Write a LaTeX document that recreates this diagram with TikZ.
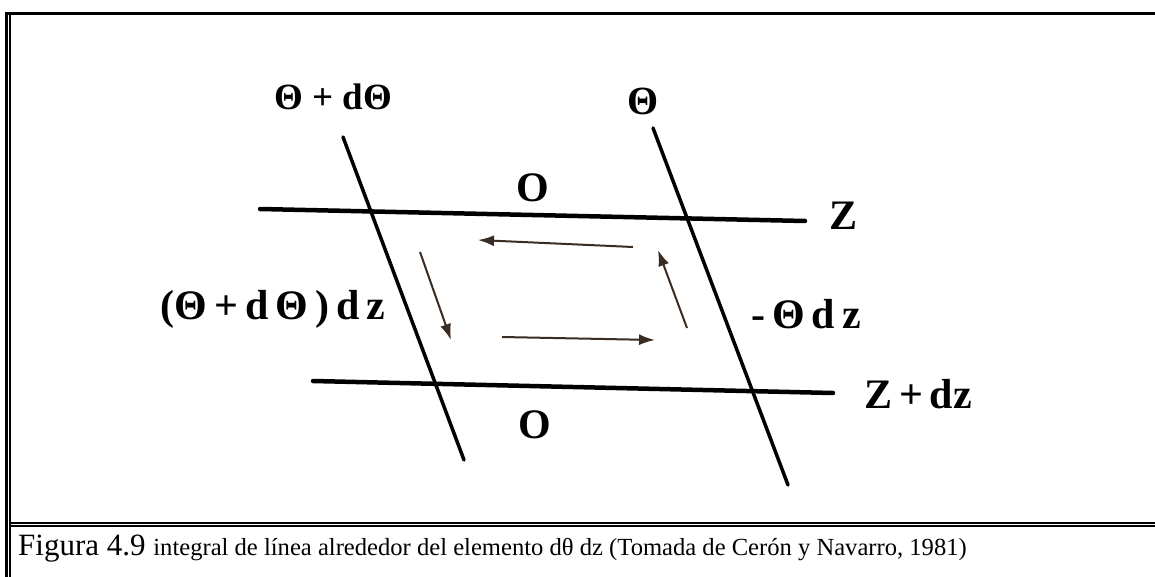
\documentclass[tikz,border=0pt]{standalone}
\usepackage{fontspec}
\setmainfont{Liberation Serif}
\usepackage{xcolor}
\usepackage{tikz}
\usetikzlibrary{arrows.meta,positioning,calc}
\tikzset{>=stealth}
\definecolor{arrowbrown}{RGB}{58,44,34}
\tikzset{
  gridline/.style={line width=4.5pt, line cap=round},
  slantline/.style={line width=3.5pt, line cap=round},
  flowarrow/.style={arrowbrown, line width=2pt, -{Latex[length=16pt,width=11pt]}},
  lbl/.style={font=\fontsize{42}{48}\selectfont\bfseries, inner sep=0pt}
}

\begin{document}
\begin{tikzpicture}[x=1pt, y=-1pt]
			\useasboundingbox (0,0) rectangle (1155,577);
			\fill[white] (0,0) rectangle (1155,577);
			% frame
			\draw[line width=3.5pt] (5,13.5) -- (1155,13.5);
			\draw[line width=3pt] (6.5,12) -- (6.5,577);
			\draw[line width=1.3pt] (10,15) -- (10,577);
			\draw[line width=2pt] (10,522.5) -- (1155,522.5);
			\draw[line width=1.8pt] (10,526.2) -- (1155,526.2);
			% grid lines
			\draw[gridline] (260,209) -- (805,221);
			\draw[gridline] (313,381) -- (833,393);
			\draw[slantline] (343,137) -- (464,460);
			\draw[slantline] (653,128) -- (788,485);
			% circulation arrows
			\draw[flowarrow] (420,252) -- (451,340);
			\draw[flowarrow] (502,337) -- (655,340);
			\draw[flowarrow] (687,328) -- (658,250);
			\draw[flowarrow] (633,247) -- (478,240);
			% labels
			\node[lbl, font=\fontsize{37}{42}\selectfont\bfseries] (thetaplus) at (333,97) {Θ + dΘ};
			\node[lbl, font=\fontsize{40}{46}\selectfont\bfseries] (theta) at (643,101) {Θ};
			\node[lbl] (otop) at (533,188) {O};
			\node[lbl] (zlab) at (843,216) {Z};
			\node[lbl] (leftint) at (273,309) {(Θ\,+\,d\,Θ\,)\,d\,z};
			\node[lbl] (rightint) at (806,314) {-\,Θ\,d\,z};
			\node[lbl] (zdz) at (918,394) {Z\,+\,dz};
			\node[lbl] (obot) at (535,425) {O};
			\node[anchor=base west, inner sep=0pt] (caption) at (18,555) {{\fontsize{31}{36}\selectfont Figura 4.9 }{\fontsize{24.6}{29}\selectfont integral de línea alrededor del elemento dθ dz (Tomada de Cerón y Navarro, 1981)}};
		\end{tikzpicture}
\end{document}
